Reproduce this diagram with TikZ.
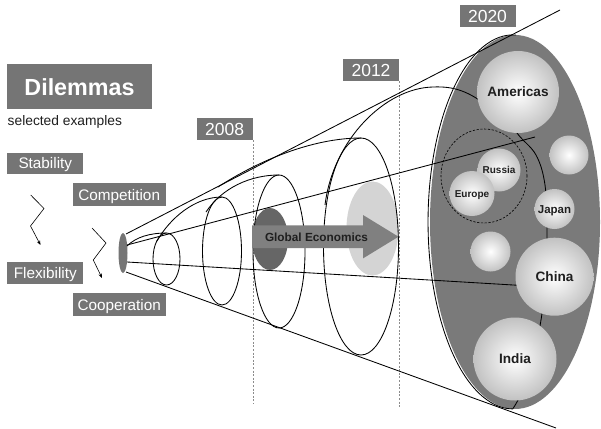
\documentclass[tikz,border=0pt]{standalone}
\usepackage{fontspec}
\setmainfont{Liberation Sans}
\usetikzlibrary{arrows.meta}

\definecolor{boxgray}{gray}{0.46}
\definecolor{bigfill}{gray}{0.48}
\definecolor{darkfill}{gray}{0.40}
\definecolor{lightfill}{gray}{0.83}
\definecolor{arrowgray}{gray}{0.50}
\definecolor{ink}{gray}{0.12}
\definecolor{yeardash}{gray}{0.55}
\definecolor{bubbleedge}{gray}{0.76}

\tikzset{
  wire/.style={line width=0.85pt, draw=black},
  yearline/.style={draw=yeardash, line width=0.8pt, dash pattern=on 2pt off 1.6pt},
  labelbox/.style={fill=boxgray, text=white, inner sep=0pt,
    font=\fontsize{15.3pt}{16pt}\selectfont, text height=11pt, text depth=0pt},
  yearbox/.style={fill=boxgray, text=white, inner sep=0pt, minimum width=56pt,
    minimum height=21.7pt, font=\fontsize{17.5pt}{18pt}\selectfont,
    text height=12.5pt, text depth=0pt},
  bubble/.style={circle, inner sep=0pt, minimum size=#1, shading=radial,
    inner color=white, outer color=bubbleedge, text=ink,
    font=\bfseries\fontsize{13.6pt}{14pt}\selectfont, text height=9.7pt, text depth=0pt},
  smallbubble/.style={bubble=#1, font=\bfseries\fontsize{10pt}{11pt}\selectfont,
    text height=7.2pt},
  zig/.style={line width=0.6pt, -{Stealth[length=4.5pt, width=3.5pt]}},
}

\begin{document}
\begin{tikzpicture}[x=1pt,y=-1pt]
\useasboundingbox (0,0) rectangle (601,428);
\fill[white] (0,0) rectangle (601,428);

% 2020 cross-section
\fill[bigfill] (515,222) ellipse [x radius=85pt, y radius=187pt];

% Global Economics backdrop ellipses
\fill[darkfill] (270,239) ellipse [x radius=18pt, y radius=31pt];
\fill[lightfill] (372.5,228.5) ellipse [x radius=26pt, y radius=47pt];

% year tags and their dashed guide lines
\node[yearbox] (y2008) at (224.7,129.2) {2008};
\node[yearbox] (y2012) at (371,70.2) {2012};
\node[yearbox] (y2020) at (487.5,15.8) {2020};
\draw[yearline] (y2008.south east) -- ++(0,263);
\draw[yearline] (y2012.south east) -- ++(0,326);

% apex of the cone
\fill[boxgray] (123,253) ellipse [x radius=4.5pt, y radius=20pt];
\coordinate (apexT) at (126,234);
\coordinate (apexB) at (126,272);
\coordinate (apexU) at (127,245);
\coordinate (apexL) at (127,262);
\coordinate (coneT) at (560,10);
\coordinate (coneB) at (556,428);
\coordinate (innerU) at (535,137);
\coordinate (innerL) at (530,286);

% cone outline and inner rays
\draw[wire] (apexT) -- (coneT);
\draw[wire] (apexB) -- (coneB);
\draw[wire] (apexU) -- (innerU);
\draw[wire] (apexL) -- (innerL);

% growing cross-sections
\draw[wire] (166.5,259) ellipse [x radius=13.5pt, y radius=26pt];
\draw[wire] (222,251) ellipse [x radius=19.5pt, y radius=54pt];
\draw[wire] (279,251.5) ellipse [x radius=26pt, y radius=76.5pt];
\draw[wire] (361,246.5) ellipse [x radius=37.5pt, y radius=108.5pt];

% shell silhouettes running back towards the apex
\draw[wire] (127,246) .. controls (136,237) and (150,233) .. (166.5,233);
\draw[wire] (157,241) .. controls (170,218) and (195,197) .. (222,197);
\draw[wire] (206,212) .. controls (222,188) and (250,175) .. (279,175);
\draw[wire] (218,187) .. controls (258,161) and (312,138) .. (361,138);
\draw[wire] (325,205) .. controls (333,140) and (385,88) .. (433,87)
                      .. controls (455,86) and (470,92) .. (490,108);

% outer shell: left rim and rear curve
\draw[wire] (516,35) arc[start angle=88, end angle=270, x radius=85pt, y radius=187pt];
\draw[wire] plot[smooth, tension=0.6] coordinates {(500,105) (517,133) (536,155)
  (545,185) (547,230) (546,270) (541,320) (530,370) (520,396) (513,408.5)};

% Global Economics arrow
\fill[arrowgray] (252,225.3) -- (363,225.3) -- (363,215) -- (398.5,236.7)
  -- (363,258.4) -- (363,248.1) -- (252,248.1) -- cycle;
\node[inner sep=0pt, text=ink, font=\bfseries\fontsize{11.8pt}{12pt}\selectfont,
  text height=8.5pt, text depth=0pt] (ge) at (316.5,237.3) {Global Economics};

% regional group outline
\draw[line width=0.6pt, dash pattern=on 2.2pt off 1.6pt] (484,176) ellipse [x radius=43pt, y radius=47pt];

% regions
\node[bubble=82pt] (americas) at (518,92) {Americas};
\node[bubble=39pt] (blankA) at (569,155) {};
\node[smallbubble=43pt] (russia) at (499,170) {Russia};
\node[smallbubble=45pt] (europe) at (472,193.5) {Europe};
\node[bubble=40pt, font=\bfseries\fontsize{11.5pt}{12pt}\selectfont, text height=8.2pt] (japan) at (554.5,209) {Japan};
\node[bubble=40pt] (blankB) at (490.5,251.5) {};
\node[bubble=78pt] (china) at (554.5,276.7) {China};
\node[bubble=83pt] (india) at (515,359) {India};

% dilemmas
\node[labelbox, minimum width=144.4pt, minimum height=45.3pt,
  font=\bfseries\fontsize{23.3pt}{24pt}\selectfont, text height=16.7pt] (dil) at (79.5,86.7) {Dilemmas};
\node[anchor=base west, inner sep=0pt, text=ink, font=\fontsize{13.8pt}{14pt}\selectfont]
  (sel) at (7.5,125.7) {selected examples};
\node[labelbox, minimum width=76pt, minimum height=21.3pt] (stab) at (45.3,163.4) {Stability};
\node[labelbox, minimum width=93pt, minimum height=22.4pt] (comp) at (119.2,194.5) {Competition};
\node[labelbox, minimum width=76pt, minimum height=22.4pt] (flex) at (45.3,273.2) {Flexibility};
\node[labelbox, minimum width=93pt, minimum height=22.4pt] (coop) at (119.2,304.5) {Cooperation};

% zigzag transitions between the paired dilemmas
\coordinate (zaS) at (30.7,195);
\coordinate (zaE) at (40.5,245);
\coordinate (zbS) at (92,228);
\coordinate (zbE) at (102,278);
\draw[zig] (zaS) -- (44,208.5) -- (30.5,226) -- (zaE);
\draw[zig] (zbS) -- (106,243) -- (93.3,260) -- (zbE);
\end{tikzpicture}
\end{document}
